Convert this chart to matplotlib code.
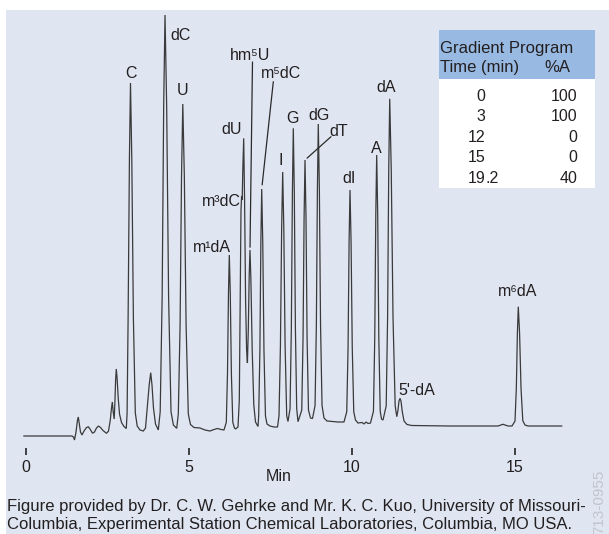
import matplotlib
matplotlib.use('Agg')
import matplotlib.pyplot as plt
from matplotlib.patches import Rectangle

plt.rcParams['font.family'] = ['Liberation Sans', 'DejaVu Sans']

# ---------------- data ----------------
time_min = [
    -0.07, 1.406, 1.452, 1.483, 1.529, 1.575, 1.600, 1.630, 1.667, 1.713,
    1.775, 1.851, 1.907, 1.959, 2.036, 2.097, 2.158, 2.220, 2.281, 2.358,
    2.465, 2.527, 2.582, 2.619, 2.644, 2.671, 2.702, 2.726, 2.745, 2.766,
    2.791, 2.825, 2.865, 2.926, 3.003, 3.073,
    3.098, 3.129, 3.169, 3.202, 3.242, 3.291, 3.350, 3.408, 3.494, 3.595,
    3.663, 3.724, 3.776, 3.823, 3.862, 3.908, 3.970, 4.056,
    4.114, 4.174, 4.221, 4.262, 4.313, 4.372, 4.446, 4.519, 4.621,
    4.670, 4.725, 4.769, 4.808, 4.855, 4.909, 4.977, 5.044, 5.152,
    5.336, 5.490, 5.643, 5.766, 5.873, 5.981, 6.073,
    6.144, 6.180, 6.210, 6.236, 6.266, 6.300, 6.343, 6.395, 6.426,
    6.503, 6.543, 6.570, 6.595, 6.613, 6.632, 6.650, 6.678, 6.705, 6.736, 6.767, 6.792,
    6.819, 6.847, 6.871, 6.899, 6.939, 6.988, 7.040, 7.117,
    7.138, 7.175, 7.205, 7.231, 7.263, 7.300, 7.346, 7.393, 7.485, 7.608, 7.716,
    7.762, 7.806, 7.843, 7.875, 7.909, 7.949, 7.998, 8.038,
    8.101, 8.141, 8.173, 8.201, 8.232, 8.265, 8.305, 8.345,
    8.460, 8.500, 8.532, 8.560, 8.591, 8.624, 8.667, 8.729, 8.790,
    8.869, 8.909, 8.941, 8.968, 9.001, 9.037, 9.083, 9.143, 9.236,
    9.389, 9.573, 9.757,
    9.842, 9.882, 9.914, 9.942, 9.974, 10.011, 10.057, 10.110, 10.187,
    10.310, 10.372, 10.433, 10.494, 10.571,
    10.662, 10.702, 10.734, 10.761, 10.792, 10.826, 10.869, 10.909, 10.955,
    11.053, 11.096, 11.131, 11.161, 11.208, 11.262, 11.329, 11.378,
    11.415, 11.446, 11.477, 11.507, 11.548, 11.600, 11.692, 11.836,
    13.012, 13.933, 14.486, 14.578, 14.639, 14.701, 14.793, 14.916,
    15.008, 15.049, 15.081, 15.109, 15.148, 15.192, 15.247, 15.315, 15.407,
    16.442,
]
signal = [
    0, 0, -1, -4, 4, 16, 19, 12, 4, 1,
    5, 8.5, 9.2, 7, 2.8, 4, 8, 10, 8.5, 5.5,
    2.7, 5, 16, 28, 34, 24, 17, 36, 56, 67,
    58, 38, 22, 13.5, 9.5, 7.5,
    23, 118, 277, 353, 277, 118, 23, 10, 6, 5,
    8, 31, 51, 63.3, 51, 28, 12, 6,
    24.3, 138.8, 329.7, 421, 329.7, 138.8, 24.3, 11, 7.7,
    22, 111.4, 260.4, 332, 260.4, 111.4, 22, 11.5, 8.5,
    8, 6, 5, 6.5, 7.5, 6.5, 6,
    13.7, 62, 142.5, 181, 142.5, 62, 13.7, 8, 7,
    9, 36, 136, 226, 240, 236, 266, 297.7, 236, 136, 86, 73,
    106, 161, 186, 156, 86, 31, 14, 9.5,
    20, 85.5, 194.2, 247, 194.2, 85.5, 20, 12, 10, 9, 9,
    20.2, 90.6, 208, 264, 208, 90.6, 20.2, 14.5,
    27.4, 108.3, 243, 307.7, 243, 108.3, 27.4, 14.3,
    25.8, 98, 218.4, 276, 218.4, 98, 25.8, 18, 17.5,
    30.5, 111.5, 247.2, 312, 247.2, 111.5, 30.5, 18, 15,
    14.5, 14, 14,
    24.2, 88.2, 195, 246, 195, 88.2, 24.2, 16, 13,
    13.5, 12, 14, 12.5, 13,
    24.8, 98.8, 222, 281, 222, 98.8, 24.8, 17, 16,
    30.1, 118.7, 266.4, 337.2, 266.4, 118.7, 30.1, 19.3,
    26, 35, 37.7, 35, 24, 15, 11.5, 10.5,
    10, 10, 10, 11, 11.7, 11, 10, 10,
    15, 48.2, 103, 129.3, 103, 48.2, 15.2, 11, 10,
    10,
]

peak_names = ['C', 'dC', 'U', 'm\u00b9dA', 'dU', 'm\u00b3dC',
              'hm\u2075U', 'm\u2075dC', 'I', 'G', 'dT', 'dG',
              'dI', 'A', 'dA', "5'-dA", 'm\u2076dA']
peak_times = [3.202, 4.262, 4.808, 6.236, 6.678, 6.613, 6.871, 7.231, 7.875,
              8.201, 8.560, 8.968, 9.942, 10.761, 11.161, 11.477, 15.109]
peak_heights = [353, 421, 332, 181, 297.7, 240, 186, 247, 264, 307.7, 276,
                312, 246, 281, 337.2, 37.7, 129.3]

gradient_time = [0, 3, 12, 15, 19.2]
gradient_pctA = [100, 100, 0, 0, 40]

x_ticks = [0, 5, 10, 15]
x_label = 'Min'
table_title = 'Gradient Program'
table_cols = ['Time (min)', '%A']
caption_lines = [
    'Figure provided by Dr. C. W. Gehrke and Mr. K. C. Kuo, University of Missouri-',
    'Columbia, Experimental Station Chemical Laboratories, Columbia, MO USA.',
]
figure_code = '713-0955'

# ---------------- style / layout ----------------
W, H = 609, 534
BG = '#dfe6f2'
HDR = '#97b9e2'
TXT = '#231f20'
TRACE = '#3a3a3a'

# label offsets in pixels (dx, dy) relative to apex, baseline anchored
label_offsets = [(0.8, 5), (16, -25.2), (0, 9.2), (-17.6, 3.5), (-12, 4.5),
                 (-20.2, -10.5), (0, 189.5), (19.3, 111), (-1.7, 7.2),
                 (-0.6, 5.5), (33.7, 24.5), (1.2, 3.5), (-0.7, 7.2), (0, 1.7),
                 (-3.3, 7.1), (16.7, 3.5), (-0.6, 10.2)]
# leader lines: peak index -> (start offset px, shrink at peak in pt)
leaders = {6: ((2.5, 188), 2), 7: ((11.6, 107.3), 3), 10: ((26, 23.3), 2)}

fig = plt.figure(figsize=(W / 100, H / 100), dpi=100)
fig.patch.set_facecolor('white')

ov = fig.add_axes([0, 0, 1, 1], zorder=0)
ov.set_xlim(0, W)
ov.set_ylim(H, 0)
ov.axis('off')
ov.add_patch(Rectangle((6, 10), W - 6, H - 10, color=BG, lw=0))

ax = fig.add_axes([10 / W, 86 / H, 590 / W, 438 / H], zorder=1)
ax.patch.set_alpha(0)
ax.set_xlim((10 - 26.2) / 32.57, (600 - 26.2) / 32.57)
ax.set_ylim(-12, 426)
for sp in ax.spines.values():
    sp.set_visible(False)
ax.set_yticks([])
ax.set_xticks(x_ticks)
ax.set_xticklabels([str(v) for v in x_ticks])
ax.tick_params(axis='x', direction='out', length=5.0, width=1.3,
               colors='#333333', labelsize=11.5, pad=3.8, labelcolor=TXT)

ax.plot(time_min, signal, color=TRACE, lw=0.9, clip_on=False,
        solid_joinstyle='miter')

for i, (name, t, h) in enumerate(zip(peak_names, peak_times, peak_heights)):
    dx, dy = label_offsets[i]
    ax.annotate(name, xy=(t, h), xytext=(dx, dy), textcoords='offset pixels',
                ha='center', va='baseline', fontsize=11.5, color=TXT)
    if i in leaders:
        (lx, ly), shrink = leaders[i]
        ax.annotate('', xy=(t, h), xytext=(lx, ly), textcoords='offset pixels',
                    arrowprops=dict(arrowstyle='-', color='#2a2a2a', lw=0.9,
                                    shrinkA=0, shrinkB=shrink))

ov.text(278.8, 481, x_label, ha='center', va='baseline', fontsize=11.5, color=TXT)

# gradient table
ov.add_patch(Rectangle((439.3, 30), 155.7, 49.3, color=HDR, lw=0))
ov.add_patch(Rectangle((439.3, 79.3), 155.7, 108.4, color='white', lw=0))
ov.text(440, 52.5, table_title, ha='left', va='baseline', fontsize=12, color=TXT)
ov.text(440, 72, table_cols[0], ha='left', va='baseline', fontsize=12, color=TXT)
ov.text(570.7, 72, table_cols[1], ha='right', va='baseline', fontsize=12, color=TXT)
for i, (t, a) in enumerate(zip(gradient_time, gradient_pctA)):
    yb = 100.75 + i * 20.45
    ip, _, fp = f'{t:g}'.partition('.')
    ov.text(485.7, yb, ip, ha='right', va='baseline', fontsize=11.5, color=TXT)
    if fp:
        ov.text(485.7, yb, '.' + fp, ha='left', va='baseline', fontsize=11.5, color=TXT)
    ov.text(577.7, yb, f'{a:g}', ha='right', va='baseline', fontsize=11.5, color=TXT)

# caption
ov.text(7, 511, caption_lines[0], ha='left', va='baseline', fontsize=12, color=TXT)
ov.text(7, 529, caption_lines[1], ha='left', va='baseline', fontsize=12, color=TXT)
ov.text(599, 470, figure_code, ha='center', va='top', rotation=90,
        fontsize=11, color='#c0c4cc')

fig.savefig('out.png', dpi=100, facecolor='white')
